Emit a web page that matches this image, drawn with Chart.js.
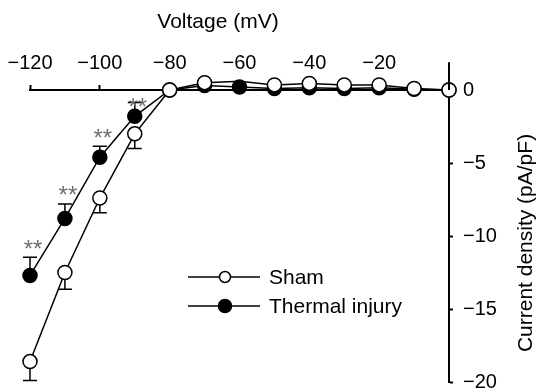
<!DOCTYPE html>
<html><head><meta charset="utf-8">
<script src="https://cdn.jsdelivr.net/npm/chart.js@4/dist/chart.umd.min.js"></script>
<style>html,body{margin:0;padding:0;background:#fff;}</style>
</head><body>
<canvas id="c" width="537" height="392"></canvas>
<script>
const voltages = [-120,-110,-100,-90,-80,-70,-60,-50,-40,-30,-20,-10,0];
const shamValues = [-18.6,-12.5,-7.4,-3.0,0,0.5,0.6,0.35,0.45,0.35,0.35,0.1,0];
const shamErrors = [1.3,1.15,1.0,1.0,0,0,0,0,0,0,0,0,0];
const thermalValues = [-12.7,-8.8,-4.6,-1.8,0,0.3,0.2,0.1,0.15,0.1,0.15,0.05,0];
const thermalErrors = [1.25,1.0,0.75,0.95,0,0,0,0,0,0,0,0,0];
const significance = ['**','**','**','**','','','','','','','','',''];
const xTicks = [-120,-100,-80,-60,-40,-20];
const yTicks = [0,-5,-10,-15,-20];
const seriesNames = ['Sham','Thermal injury'];
const xTitle = 'Voltage (mV)';
const yTitle = 'Current density (pA/pF)';

const FONT = "'Liberation Sans', Arial, sans-serif";
const fmt = v => v < 0 ? '\u2212' + Math.abs(v) : String(v);

const extras = {
  id: 'extras',
  beforeDatasetsDraw(chart) {
    const {ctx, scales: {x, y}} = chart;
    ctx.save();
    ctx.strokeStyle = '#000'; ctx.lineWidth = 1.5;
    const bars = (vals, errs, dir) => vals.forEach((v, i) => {
      if (!errs[i]) return;
      const px = x.getPixelForValue(voltages[i]);
      const y0 = y.getPixelForValue(v), y1 = y.getPixelForValue(v + dir * errs[i]);
      ctx.beginPath(); ctx.moveTo(px, y0); ctx.lineTo(px, y1);
      ctx.moveTo(px - 7, y1); ctx.lineTo(px + 7, y1); ctx.stroke();
    });
    bars(shamValues, shamErrors, -1);
    bars(thermalValues, thermalErrors, 1);
    ctx.restore();
  },
  afterDraw(chart) {
    const {ctx, scales: {x, y}} = chart;
    ctx.save();
    // y axis extension above zero
    ctx.strokeStyle = '#000'; ctx.lineWidth = 2;
    const ax = x.getPixelForValue(0);
    ctx.beginPath(); ctx.moveTo(ax, y.getPixelForValue(0)); ctx.lineTo(ax, y.getPixelForValue(1.9)); ctx.stroke();
    // significance marks
    ctx.fillStyle = '#707070';
    ctx.font = '24px ' + FONT;
    ctx.textAlign = 'center'; ctx.textBaseline = 'alphabetic';
    const zeroY = y.getPixelForValue(0);
    significance.forEach((s, i) => {
      if (!s) return;
      const px = x.getPixelForValue(voltages[i]) + 3;
      const top = y.getPixelForValue(thermalValues[i] + thermalErrors[i]);
      const py = Math.max(top - 13, zeroY + 12);
      ctx.fillText(s, px, py + 12.5);
    });
    // legend
    ctx.textBaseline = 'middle';
    ctx.font = '21px ' + FONT;
    ctx.textAlign = 'left';
    const lx0 = 188, lx1 = 260, lcx = 225;
    [[277, '#fff', 5.5], [306, '#000', 6.5]].forEach(([ly, fill, r], k) => {
      ctx.strokeStyle = '#000'; ctx.lineWidth = 1.5;
      ctx.beginPath(); ctx.moveTo(lx0, ly); ctx.lineTo(lx1, ly); ctx.stroke();
      ctx.beginPath(); ctx.arc(lcx, ly, r, 0, Math.PI * 2);
      ctx.fillStyle = fill; ctx.fill(); ctx.stroke();
      ctx.fillStyle = '#000';
      ctx.fillText(seriesNames[k], 269, ly + 1);
    });
    // axis titles
    ctx.textAlign = 'center';
    ctx.fillText(xTitle, 218, 22);
    ctx.translate(526, 243);
    ctx.rotate(-Math.PI / 2);
    ctx.fillText(yTitle, 0, 0);
    ctx.restore();
  }
};

const mk = (vals) => voltages.map((v, i) => ({x: v, y: vals[i]}));

new Chart(document.getElementById('c'), {
  type: 'line',
  data: {
    datasets: [
      {label: seriesNames[0], data: mk(shamValues), borderColor: '#000', borderWidth: 1.5,
       pointRadius: 7, pointBackgroundColor: '#fff', pointBorderColor: '#000', pointBorderWidth: 1.5,
       tension: 0, clip: false, order: 0},
      {label: seriesNames[1], data: mk(thermalValues), borderColor: '#000', borderWidth: 1.5,
       pointRadius: 7, pointBackgroundColor: '#000', pointBorderColor: '#000', pointBorderWidth: 1.5,
       tension: 0, clip: false, order: 1}
    ]
  },
  options: {
    responsive: false, animation: false, devicePixelRatio: 1,
    layout: {padding: {left: 0, right: 0, top: 0, bottom: 0}},
    plugins: {legend: {display: false}, tooltip: {enabled: false}},
    scales: {
      x: {
        type: 'linear', position: 'top', min: -120, max: 0,
        afterBuildTicks: s => { s.ticks = xTicks.map(v => ({value: v})); },
        afterFit: s => { s.height = 90; s.paddingLeft = 30; s.paddingRight = 0; },
        ticks: {callback: v => fmt(v), font: {family: FONT, size: 20}, color: '#000',
                padding: 10, maxRotation: 0, autoSkip: false},
        grid: {drawOnChartArea: false, drawTicks: true, tickLength: 5, tickWidth: 2, tickColor: '#000'},
        border: {display: true, color: '#000', width: 2}
      },
      y: {
        type: 'linear', position: 'right', min: -20, max: 0,
        afterBuildTicks: s => { s.ticks = yTicks.map(v => ({value: v})); },
        afterFit: s => { s.width = 88; s.paddingBottom = 10; s.paddingTop = 0; },
        ticks: {callback: v => fmt(v), font: {family: FONT, size: 20}, color: '#000', padding: 10},
        grid: {drawOnChartArea: false, drawTicks: true, tickLength: 4, tickWidth: 2, tickColor: '#000'},
        border: {display: true, color: '#000', width: 2}
      }
    }
  },
  plugins: [extras]
});
</script>
</body></html>
